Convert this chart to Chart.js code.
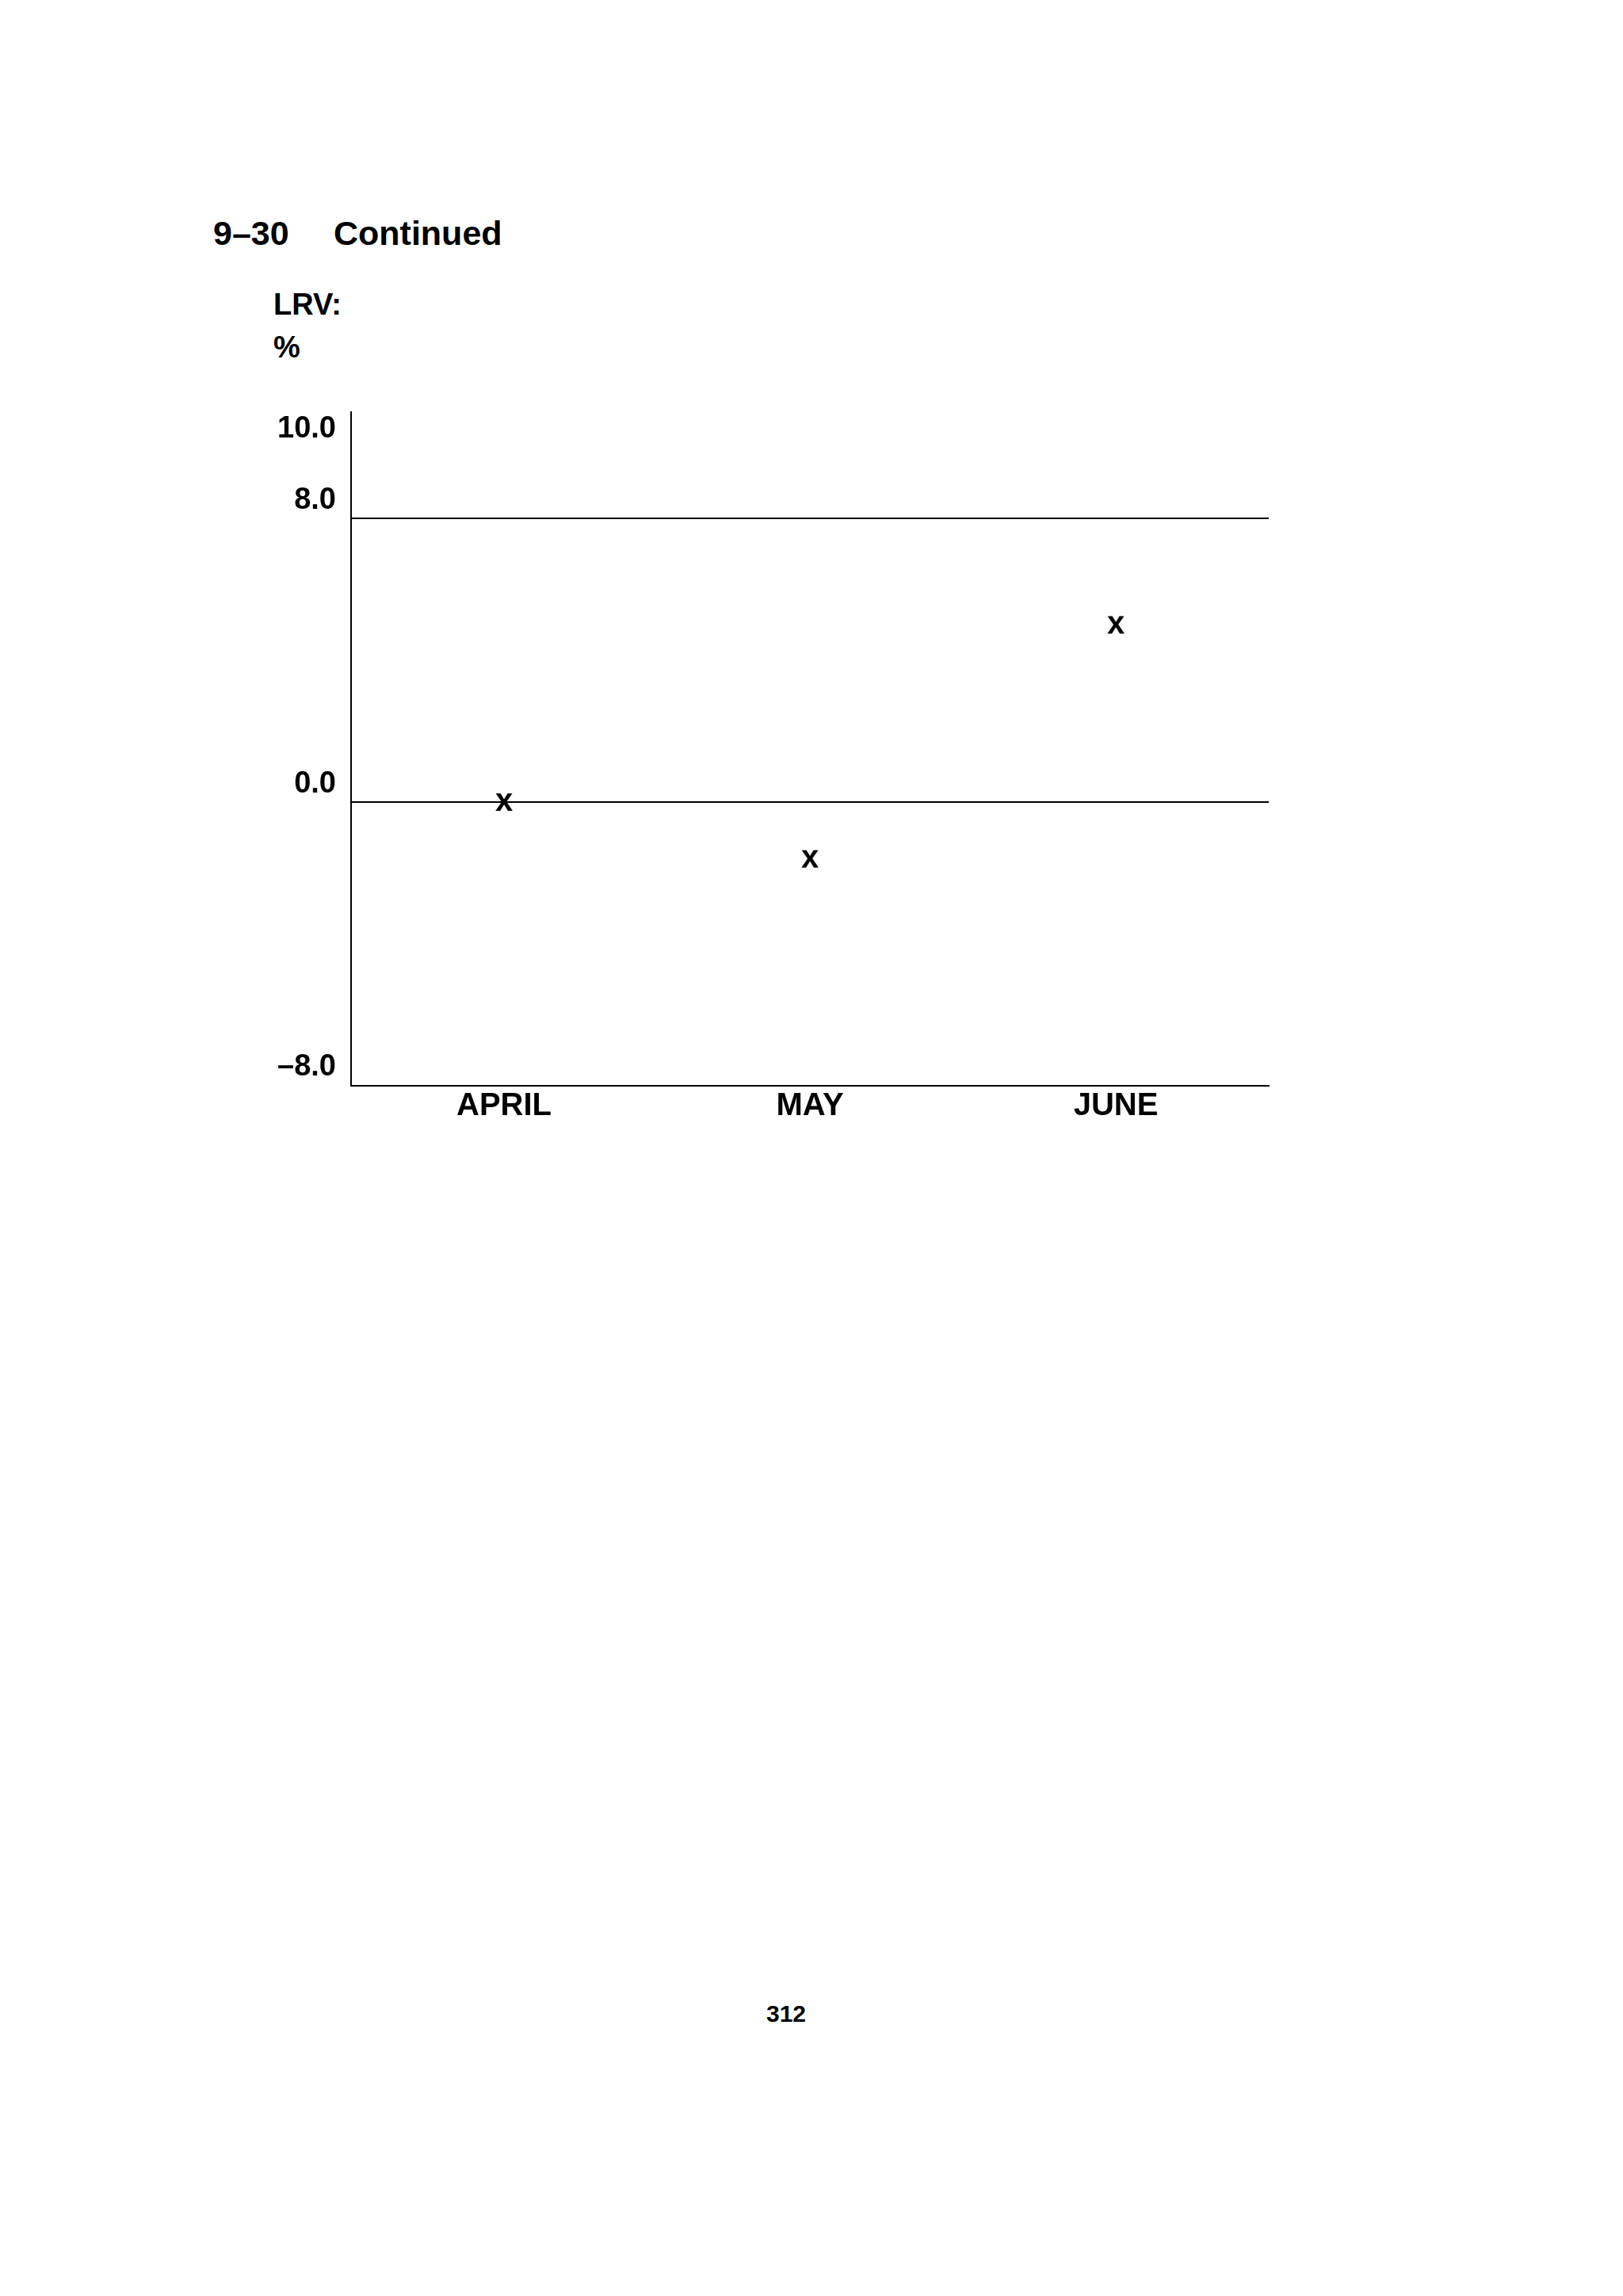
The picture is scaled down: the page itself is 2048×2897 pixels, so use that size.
<!DOCTYPE html>
<html>
<head>
<meta charset="utf-8">
<script src="https://cdn.jsdelivr.net/npm/chart.js@4"></script>
<style>
  body { margin: 0; background: #fff; }
  .page { position: relative; width: 2048px; height: 2897px; background: #fff; font-family: "Liberation Sans", Arial, sans-serif; font-weight: bold; color: #000; }
  .txt { position: absolute; line-height: 1; white-space: nowrap; }
  #grafico { position: absolute; left: 300px; top: 497px; }
</style>
</head>
<body>
<div class="page">
  <div class="txt" style="left:269px; top:273px; font-size:43px;">9–30</div>
  <div class="txt" style="left:421px; top:273px; font-size:43px;">Continued</div>
  <div class="txt" style="left:345px; top:365px; font-size:38px;">LRV:</div>
  <div class="txt" style="left:345px; top:419px; font-size:38px;">%</div>
  <canvas id="grafico" width="1320" height="933"></canvas>
  <div class="txt" style="left:892px; width:200px; text-align:center; top:2526px; font-size:30px;">312</div>
</div>
<script>
// ======== DADOS ========
const meses = ['APRIL', 'MAY', 'JUNE'];
const valoresLRV = [0.0, -1.6, 5.0];
const ticksY = [-8, 0, 8, 10];
const linhasGrade = [0, 8];

const fonte = '"Liberation Sans", Arial, sans-serif';

// marcador "x" desenhado como texto
function marcadorX() {
  const c = document.createElement('canvas');
  c.width = 30;
  c.height = 30;
  const g = c.getContext('2d');
  g.fillStyle = '#000';
  g.font = 'bold 40px ' + fonte;
  g.textAlign = 'center';
  g.textBaseline = 'alphabetic';
  g.fillText('x', 15, 25.5);
  return c;
}

function rotuloY(v) {
  return v < 0 ? '–' + Math.abs(v).toFixed(1) : v.toFixed(1);
}

const ctx = document.getElementById('grafico').getContext('2d');
new Chart(ctx, {
  type: 'line',
  data: {
    labels: meses,
    datasets: [{
      label: 'LRV',
      data: valoresLRV,
      showLine: false,
      pointStyle: marcadorX(),
      pointRadius: 15,
      borderColor: '#000',
      backgroundColor: '#000'
    }]
  },
  options: {
    responsive: false,
    animation: false,
    layout: { padding: { top: 23, right: 19, left: 0, bottom: 0 } },
    plugins: {
      legend: { display: false },
      tooltip: { enabled: false }
    },
    scales: {
      x: {
        offset: true,
        grid: { display: false, drawTicks: false },
        border: { display: true, color: '#000', width: 2 },
        ticks: {
          color: '#000',
          padding: 2,
          font: { family: fonte, size: 40, weight: 'bold' }
        },
        afterFit: s => { s.height = 60; }
      },
      y: {
        min: -8,
        max: 11,
        afterBuildTicks: s => { s.ticks = ticksY.map(v => ({ value: v })); },
        grid: {
          drawTicks: false,
          lineWidth: 2,
          color: c => linhasGrade.includes(c.tick && c.tick.value) ? '#000' : 'rgba(0,0,0,0)'
        },
        border: { display: true, color: '#000', width: 2 },
        ticks: {
          color: '#000',
          padding: 19,
          labelOffset: -23,
          font: { family: fonte, size: 38, weight: 'bold' },
          callback: v => rotuloY(v)
        },
        afterFit: s => {
          s.width = 143;
          s.paddingTop = 0;
          s.paddingBottom = 0;
        }
      }
    }
  }
});
</script>
</body>
</html>
